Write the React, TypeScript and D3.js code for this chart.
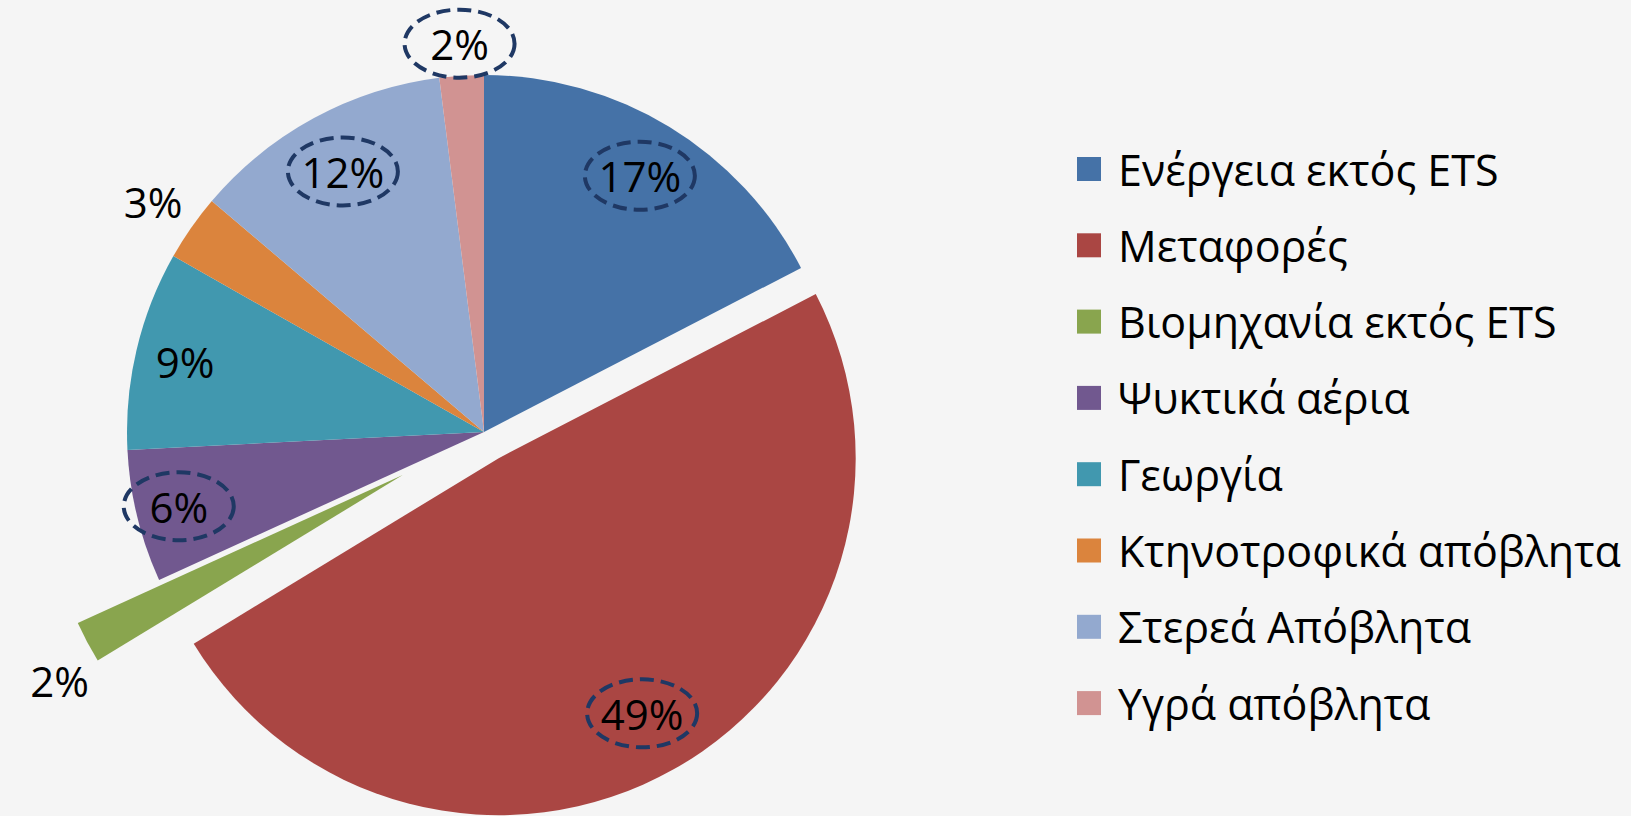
import React from "react";
import * as d3 from "d3";

const categories = [
  "Ενέργεια εκτός ETS",
  "Μεταφορές",
  "Βιομηχανία εκτός ETS",
  "Ψυκτικά αέρια",
  "Γεωργία",
  "Κτηνοτροφικά απόβλητα",
  "Στερεά Απόβλητα",
  "Υγρά απόβλητα",
];
const values = [17.4, 48.9, 1.9, 6.0, 9.0, 3.0, 11.8, 2.0];
const colors = ["#4572a7", "#aa4643", "#89a54e", "#71588f", "#4198af", "#db843d", "#93a9cf", "#d19392"];
const explode = [0, 30, 92, 0, 0, 0, 0, 0];
const labelRadius = [0.84, 0.82, 1.12, 0.88, 0.86, 1.13, 0.83, 1.09];
const labelTurn = [0, 0, -3, 0, 0, 0, 0, 0];
const circled = [true, true, false, true, false, false, true, true];

const W = 1631;
const H = 816;
const cx = 484;
const cy = 432;
const R = 357;
const FONT = "'Open Sans', 'Noto Sans', sans-serif";

export default function App() {
  const total = d3.sum(values);
  const pie = d3.pie<number>().sort(null).value((d) => d).startAngle(0).endAngle(2 * Math.PI);
  const arcs = pie(values);
  const arc = d3.arc<d3.PieArcDatum<number>>().innerRadius(0).outerRadius(R);

  const legendY = d3.scalePoint<string>().domain(categories).range([169, 169 + 76.3 * 7]);

  return (
    <svg
      width={W}
      height={H}
      style={{ position: "fixed", left: 0, top: 0, display: "block" }}
      fontFamily={FONT}
    >
      <rect width={W} height={H} fill="#f5f5f5" />
      {arcs.map((a, i) => {
        const mid = (a.startAngle + a.endAngle) / 2;
        const ox = Math.sin(mid) * explode[i];
        const oy = -Math.cos(mid) * explode[i];
        const lr = R * labelRadius[i];
        const la = mid + (labelTurn[i] * Math.PI) / 180;
        const lx = cx + ox + Math.sin(la) * lr;
        const ly = cy + oy - Math.cos(la) * lr;
        const pct = Math.round((values[i] / total) * 100) + "%";
        return (
          <g key={i}>
            <path d={arc(a) || ""} transform={`translate(${cx + ox},${cy + oy})`} fill={colors[i]} />
            <g>
              {circled[i] && (
                <ellipse
                  cx={lx}
                  cy={ly}
                  rx={55}
                  ry={34}
                  fill="none"
                  stroke="#1f3864"
                  strokeWidth={4}
                  strokeDasharray="14 7"
                />
              )}
              <text
                x={lx}
                y={ly}
                textAnchor="middle"
                dominantBaseline="central"
                fontSize={42}
                fill="#000"
              >
                {pct}
              </text>
            </g>
          </g>
        );
      })}
      {categories.map((c, i) => {
        const y = legendY(c) as number;
        return (
          <g key={c}>
            <rect x={1077} y={y - 12} width={24} height={24} fill={colors[i]} />
            <text x={1118} y={y} dominantBaseline="central" fontSize={43} fill="#000">
              {c}
            </text>
          </g>
        );
      })}
    </svg>
  );
}
